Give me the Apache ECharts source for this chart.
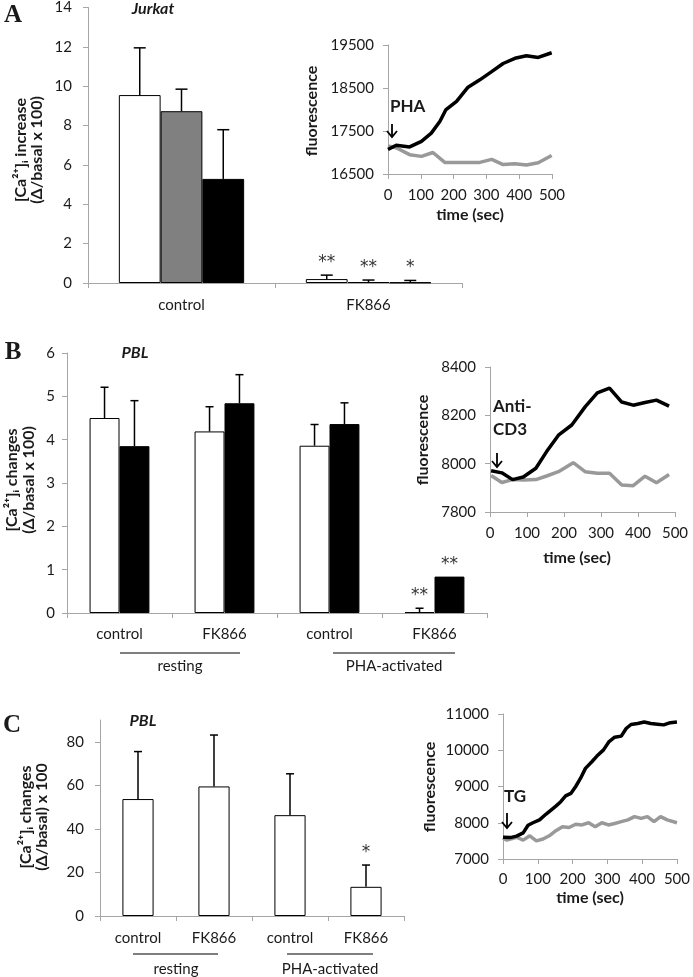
<!DOCTYPE html>
<html><head><meta charset="utf-8">
<script src="https://cdn.jsdelivr.net/npm/echarts@6/dist/echarts.min.js"></script>
<style>html,body{margin:0;padding:0;background:#fff}#c{width:693px;height:977px}</style>
</head><body><div id="c"></div>
<script>
// ---------- DATA ----------
const catsA = ['control', 'FK866'];
const aWhite = [9.55, 0.20];
const aWhiteErr = [2.40, 0.20];
const aWhiteSig = ['', '**'];
const aGray = [8.73, 0.05];
const aGrayErr = [1.12, 0.10];
const aGraySig = ['', '**'];
const aBlack = [5.29, 0.03];
const aBlackErr = [2.50, 0.10];
const aBlackSig = ['', '*'];

const insetA_blackT = [0, 25, 66, 102, 132, 158, 176, 209, 244, 280, 316, 351, 387, 422, 458, 499];
const insetA_blackV = [17070, 17170, 17130, 17260, 17450, 17720, 17990, 18190, 18520, 18690, 18880, 19070, 19190, 19250, 19210, 19320];
const insetA_grayT = [0, 25, 66, 102, 137, 173, 209, 244, 280, 316, 351, 387, 422, 458, 499];
const insetA_grayV = [17150, 17110, 16950, 16910, 17000, 16770, 16770, 16770, 16770, 16840, 16720, 16740, 16710, 16760, 16930];

const catsB = ['control', 'FK866', 'control', 'FK866'];
const groupsB = ['resting', 'PHA-activated'];
const bWhite = [4.50, 4.19, 3.86, 0.02];
const bWhiteErr = [0.71, 0.57, 0.49, 0.09];
const bWhiteSig = ['', '', '', '**'];
const bBlack = [3.85, 4.84, 4.36, 0.84];
const bBlackErr = [1.05, 0.66, 0.49, 0];
const bBlackSig = ['', '', '', '**'];

const insetB_blackT = [3, 32, 61, 90, 124, 153, 185, 221, 257, 290, 323, 356, 387, 419, 450, 484];
const insetB_blackV = [7971, 7962, 7934, 7945, 7981, 8050, 8118, 8160, 8235, 8293, 8313, 8255, 8242, 8253, 8263, 8238];
const insetB_grayT = [3, 32, 61, 90, 124, 153, 185, 225, 257, 290, 323, 356, 387, 419, 450, 484];
const insetB_grayV = [7951, 7922, 7934, 7932, 7934, 7949, 7967, 8004, 7967, 7960, 7960, 7912, 7909, 7948, 7921, 7955];

const catsC = ['control', 'FK866', 'control', 'FK866'];
const groupsC = ['resting', 'PHA-activated'];
const cWhite = [53.7, 59.5, 46.3, 13.4];
const cWhiteErr = [21.8, 23.6, 19.0, 10.0];
const cWhiteSig = ['', '', '', '*'];

const insetC_blackT = [0, 21, 39, 58, 72, 86, 105, 124, 138, 152, 166, 180, 195, 209, 223, 237, 256, 270, 289, 305, 321, 340, 354, 368, 387, 406, 425, 444, 462, 481, 500];
const insetC_blackV = [7600, 7590, 7630, 7720, 7930, 8000, 8080, 8240, 8350, 8460, 8580, 8740, 8810, 9000, 9230, 9500, 9690, 9840, 10010, 10240, 10360, 10390, 10600, 10710, 10740, 10780, 10740, 10720, 10700, 10760, 10780];
const insetC_grayT = [0, 11, 39, 58, 77, 96, 115, 133, 152, 171, 190, 209, 227, 246, 265, 284, 303, 321, 340, 359, 378, 397, 415, 434, 453, 472, 500];
const insetC_grayV = [7580, 7520, 7600, 7520, 7640, 7500, 7550, 7640, 7780, 7890, 7870, 7960, 7940, 8000, 7890, 8000, 7940, 7980, 8030, 8080, 8170, 8120, 8170, 8030, 8170, 8080, 8000];

// ---------- STYLE ----------
const FONT = 'Lato, "DejaVu Sans", sans-serif';
const SERIF = '"Liberation Serif", "DejaVu Serif", serif';
const AX = '#a6a6a6';
const TXT = '#1a1a1a';

const zip = (a, b) => a.map((v, i) => [v, b[i]]);
const plain = v => String(v);

function catX(gi, data, margin) {
  return { type: 'category', gridIndex: gi, data: data,
    axisLine: { lineStyle: { color: AX, width: 1 } },
    axisTick: { show: true, length: 5, lineStyle: { color: AX } },
    axisLabel: { color: TXT, fontSize: 15, fontFamily: FONT, margin: margin },
    splitLine: { show: false } };
}
function valAx(gi, min, max, interval, margin, showMax) {
  return { type: 'value', gridIndex: gi, min: min, max: max, interval: interval,
    axisLine: { show: true, lineStyle: { color: AX, width: 1 } },
    axisTick: { show: true, length: 5, lineStyle: { color: AX } },
    axisLabel: { color: TXT, fontSize: 15, fontFamily: FONT, margin: margin, formatter: plain, showMaxLabel: showMax !== false },
    splitLine: { show: false } };
}
function bar(ai, data, color, catGap) {
  return { type: 'bar', xAxisIndex: ai, yAxisIndex: ai, data: data, barGap: '0%', barCategoryGap: catGap,
    itemStyle: { color: color, borderColor: '#000', borderWidth: 1 }, silent: true, z: 2 };
}
function err(ai, vals, errs, sigs, n, idx, gap, cap) {
  return { type: 'custom', xAxisIndex: ai, yAxisIndex: ai, z: 5, silent: true,
    data: vals.map((v, i) => [i, v, errs[i]]),
    encode: { x: 0, y: 1 },
    renderItem: function (params, api) {
      const ci = api.value(0), v = api.value(1), e = api.value(2);
      const base = api.coord([ci, v]);
      const top = api.coord([ci, v + e]);
      const cw = api.size([1, 0])[0];
      const bw = cw * (1 - gap) / n;
      const x = base[0] - n * bw / 2 + bw * (idx + 0.5);
      const ch = [];
      if (e > 0) {
        ch.push({ type: 'line', shape: { x1: x, y1: base[1], x2: x, y2: top[1] }, style: { stroke: '#000', lineWidth: 1.5 } });
        ch.push({ type: 'line', shape: { x1: x - cap, y1: top[1], x2: x + cap, y2: top[1] }, style: { stroke: '#000', lineWidth: 1.5 } });
      }
      const s = sigs[params.dataIndex];
      if (s) ch.push({ type: 'text', x: x, y: top[1] - 4,
        style: { text: s, fill: '#333', fontSize: 17, fontFamily: '"DejaVu Sans", sans-serif', align: 'center', verticalAlign: 'bottom' } });
      return { type: 'group', children: ch };
    } };
}
function line(ai, t, v, color) {
  return { type: 'line', xAxisIndex: ai, yAxisIndex: ai, data: zip(t, v), showSymbol: false, symbol: 'none',
    lineStyle: { color: color, width: 3.5 }, silent: true, z: 3 };
}

const chart = echarts.init(document.getElementById('c'), null, { renderer: 'canvas' });

function txt(x, y, text, o) {
  o = o || {};
  return { type: 'text', x: x, y: y, rotation: o.rot || 0, z: 10,
    style: { text: text, fill: o.fill || TXT, fontSize: o.size || 15, fontWeight: o.weight || 'normal',
      fontStyle: o.style || 'normal', fontFamily: o.family || FONT, lineHeight: o.lh || 17,
      align: o.align || 'center', verticalAlign: 'middle', textAlign: o.align || 'center', textVerticalAlign: 'middle' } };
}
function seg(x1, y1, x2, y2, w, c) {
  return { type: 'line', z: 10, shape: { x1: x1, y1: y1, x2: x2, y2: y2 }, style: { stroke: c || '#000', lineWidth: w || 1.2 } };
}
function arrow(x, y1, y2) {
  return [seg(x, y1, x, y2, 1.8), { type: 'polyline', z: 10, shape: { points: [[x - 5, y2 - 6], [x, y2], [x + 5, y2 - 6]] }, style: { stroke: '#000', lineWidth: 1.8, fill: null } }];
}

const graphic = [
  txt(13, 16, 'A', { family: SERIF, weight: 'bold', size: 25 }),
  txt(13, 353, 'B', { family: SERIF, weight: 'bold', size: 25 }),
  txt(12, 726, 'C', { family: SERIF, weight: 'bold', size: 25 }),
  txt(153, 9, 'Jurkat', { weight: 'bold', style: 'italic', size: 16 }),
  txt(135, 353, 'PBL', { weight: 'bold', style: 'italic', size: 16 }),
  txt(143, 721, 'PBL', { weight: 'bold', style: 'italic', size: 16 }),
  txt(29, 150, '[Ca²⁺]ᵢ increase\n(Δ/basal x 100)', { weight: 'bold', size: 16, rot: Math.PI / 2, lh: 16 }),
  txt(20, 480, '[Ca²⁺]ᵢ changes\n(Δ/basal x 100)', { weight: 'bold', size: 16, rot: Math.PI / 2, lh: 17 }),
  txt(34, 817, '[Ca²⁺]ᵢ changes\n(Δ/basal) x 100', { weight: 'bold', size: 16, rot: Math.PI / 2, lh: 16 }),
  txt(312, 111, 'fluorescence', { weight: 'bold', size: 16, rot: Math.PI / 2 }),
  txt(423, 440, 'fluorescence', { weight: 'bold', size: 16, rot: Math.PI / 2 }),
  txt(430, 787, 'fluorescence', { weight: 'bold', size: 16, rot: Math.PI / 2 }),
  txt(470, 215, 'time (sec)', { weight: 'bold', size: 16 }),
  txt(577, 558, 'time (sec)', { weight: 'bold', size: 16 }),
  txt(590, 898, 'time (sec)', { weight: 'bold', size: 16 }),
  txt(390, 107, 'PHA', { weight: 'bold', size: 17, align: 'left' }),
  txt(493, 418, 'Anti-\nCD3', { weight: 'bold', size: 17, align: 'left', lh: 23 }),
  txt(504, 797, 'TG', { weight: 'bold', size: 17, align: 'left' }),
  seg(120, 653, 240, 653), seg(333, 653, 455, 653),
  txt(180, 666, groupsB[0]), txt(394, 666, groupsB[1]),
  seg(133, 954, 218, 954), seg(287, 954, 373, 954),
  txt(176, 969, groupsC[0]), txt(330, 969, groupsC[1])
].concat(arrow(392, 124, 137), arrow(497, 453, 467), arrow(507, 813, 828));

const option = {
  animation: false,
  backgroundColor: '#fff',
  textStyle: { fontFamily: FONT },
  grid: [
    { left: 88, top: 7, width: 374, height: 276 },
    { left: 388, top: 45, width: 164, height: 129 },
    { left: 67, top: 353, width: 420, height: 260 },
    { left: 490, top: 367, width: 185, height: 145 },
    { left: 100, top: 720, width: 304, height: 196 },
    { left: 503, top: 714, width: 177, height: 145 }
  ],
  xAxis: [
    catX(0, catsA, 15),
    valAx(1, 0, 500, 100, 14),
    catX(2, catsB, 14),
    valAx(3, 0, 500, 100, 14),
    catX(4, catsC, 15),
    valAx(5, 0, 500, 100, 13)
  ],
  yAxis: [
    valAx(0, 0, 14, 2, 16),
    valAx(1, 16500, 19500, 1000, 14),
    valAx(2, 0, 6, 1, 12),
    valAx(3, 7800, 8400, 200, 14),
    valAx(4, 0, 90, 20, 16, false),
    valAx(5, 7000, 11000, 1000, 14)
  ],
  series: [
    bar(0, aWhite, '#ffffff', '33%'), bar(0, aGray, '#808080', '33%'), bar(0, aBlack, '#000000', '33%'),
    err(0, aWhite, aWhiteErr, aWhiteSig, 3, 0, 0.33, 6),
    err(0, aGray, aGrayErr, aGraySig, 3, 1, 0.33, 6),
    err(0, aBlack, aBlackErr, aBlackSig, 3, 2, 0.33, 6),
    line(1, insetA_grayT, insetA_grayV, '#999999'),
    line(1, insetA_blackT, insetA_blackV, '#000000'),
    bar(2, bWhite, '#ffffff', '43%'), bar(2, bBlack, '#000000', '43%'),
    err(2, bWhite, bWhiteErr, bWhiteSig, 2, 0, 0.43, 4),
    err(2, bBlack, bBlackErr, bBlackSig, 2, 1, 0.43, 4),
    line(3, insetB_grayT, insetB_grayV, '#999999'),
    line(3, insetB_blackT, insetB_blackV, '#000000'),
    bar(4, cWhite, '#ffffff', '59%'),
    err(4, cWhite, cWhiteErr, cWhiteSig, 1, 0, 0.59, 4),
    line(5, insetC_grayT, insetC_grayV, '#999999'),
    line(5, insetC_blackT, insetC_blackV, '#000000')
  ],
  graphic: graphic
};
chart.setOption(option);
</script></body></html>
